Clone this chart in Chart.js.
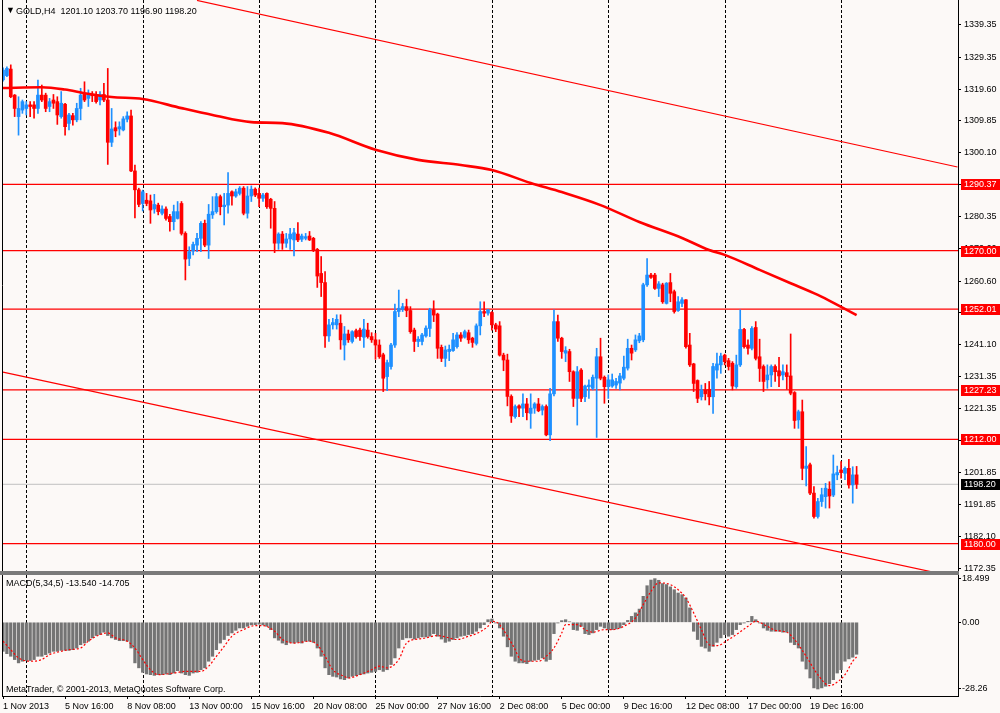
<!DOCTYPE html>
<html><head><meta charset="utf-8"><title>GOLD,H4</title>
<script src="https://cdn.jsdelivr.net/npm/chart.js@4.4.1/dist/chart.umd.min.js"></script>
<style>
html,body{margin:0;padding:0;background:#FCF9F7;overflow:hidden;}
#wrap{position:relative;width:1000px;height:713px;background:#FCF9F7;}
canvas{position:absolute;left:0;}
#c1{top:0;}
#c2{top:575px;}
#sep{position:absolute;left:0;top:571px;width:959px;height:4px;background:#7A7A7A;}
</style></head><body>
<div id="wrap">
<canvas id="c1" width="1000" height="571"></canvas>
<div id="sep"></div>
<canvas id="c2" width="1000" height="138"></canvas>
</div>
<script>
// ---------- DATA ----------
const symbol = 'GOLD,H4';
const open = [
1322.5,1323.8,1325.8,1317.8,1311.2,1313.2,1313.7,1314.8,1314.8,1313.7,
1317.8,1317.8,1314.3,1316.3,1315.8,1311.2,1315.0,1309.1,1311.5,1310.2,
1313.7,1318.3,1316.8,1318.0,1318.0,1316.3,1318.0,1316.3,1303.3,1307.8,
1307.4,1307.1,1310.4,1311.4,1294.5,1288.7,1284.5,1285.5,1285.3,1282.8,
1284.0,1281.5,1282.8,1280.5,1278.9,1279.9,1284.5,1275.3,1267.6,1269.9,
1271.7,1273.8,1278.4,1271.7,1281.0,1282.0,1286.6,1283.5,1284.0,1288.1,
1286.8,1287.6,1289.2,1281.5,1286.8,1288.9,1287.6,1286.1,1287.6,1285.8,
1283.0,1272.3,1275.1,1272.3,1273.6,1273.3,1275.1,1273.5,1273.8,1274.5,
1273.8,1270.4,1263.0,1260.2,1243.8,1247.2,1247.2,1247.7,1241.0,1244.4,
1242.1,1245.4,1245.6,1243.4,1245.6,1243.6,1242.6,1241.0,1238.0,1231.3,
1234.4,1241.0,1251.3,1252.0,1252.8,1251.6,1245.6,1242.1,1242.1,1243.8,
1246.1,1251.8,1250.5,1240.3,1236.9,1239.0,1239.3,1240.5,1244.1,1243.4,
1244.8,1243.1,1241.5,1246.9,1251.3,1250.8,1251.0,1247.2,1246.9,1237.9,
1236.4,1225.2,1219.0,1222.3,1221.6,1222.9,1220.0,1221.6,1222.9,1221.0,
1222.1,1213.4,1226.0,1248.2,1243.1,1238.5,1239.0,1232.8,1224.6,1233.3,
1225.1,1228.2,1227.7,1230.8,1237.4,1231.1,1228.2,1228.4,1228.7,1229.3,
1230.8,1233.9,1240.0,1239.5,1242.3,1242.6,1259.5,1262.5,1262.5,1258.4,
1259.5,1253.8,1260.2,1257.4,1251.6,1253.8,1254.9,1241.0,1235.2,1230.1,
1225.1,1227.2,1227.4,1225.1,1233.3,1234.9,1237.9,1236.2,1235.4,1228.2,
1234.9,1245.8,1241.0,1240.0,1246.4,1237.4,1234.4,1230.3,1231.8,1234.4,
1233.1,1231.8,1232.5,1231.5,1226.4,1218.0,1220.5,1203.1,1204.2,1195.5,
1188.3,1192.9,1194.4,1196.7,1194.9,1201.1,1202.6,1201.6,1203.1,1198.0,1201.1];
const high = [
1326.2,1326.5,1327.1,1318.0,1317.3,1316.3,1315.8,1315.8,1315.8,1322.4,
1320.9,1318.4,1316.8,1318.0,1317.3,1318.9,1315.3,1312.2,1312.2,1315.3,
1319.9,1321.9,1319.4,1318.9,1318.9,1318.9,1321.4,1326.0,1313.7,1309.6,
1309.6,1311.2,1312.7,1313.2,1296.3,1289.2,1288.6,1287.6,1287.1,1287.3,
1284.6,1283.8,1283.5,1281.2,1284.0,1285.1,1285.1,1275.8,1271.2,1272.6,
1275.3,1278.9,1279.4,1284.2,1286.6,1287.6,1287.1,1287.6,1294.0,1288.4,
1288.9,1289.7,1289.7,1289.7,1289.9,1289.3,1289.2,1287.6,1287.8,1286.1,
1285.1,1275.5,1275.9,1275.3,1276.9,1276.9,1278.6,1275.1,1275.3,1275.9,
1274.1,1270.7,1268.2,1263.6,1248.9,1249.2,1250.3,1250.3,1246.7,1245.6,
1245.4,1245.9,1246.2,1248.9,1247.7,1244.8,1244.6,1242.6,1238.5,1236.4,
1241.5,1253.6,1257.9,1253.8,1255.1,1252.8,1246.2,1243.6,1244.6,1246.9,
1252.3,1254.6,1250.8,1241.0,1240.7,1241.0,1244.6,1244.8,1244.8,1245.6,
1245.6,1243.4,1247.5,1254.3,1254.3,1252.0,1251.3,1247.7,1248.2,1238.5,
1238.2,1225.7,1222.6,1222.6,1226.0,1224.6,1226.0,1223.3,1224.6,1222.6,
1222.6,1227.7,1251.8,1250.2,1243.4,1240.5,1239.7,1233.1,1234.4,1233.8,
1228.7,1230.3,1231.8,1240.0,1243.1,1231.5,1231.8,1232.1,1230.8,1232.3,
1237.6,1242.8,1241.0,1244.1,1244.6,1260.0,1267.6,1263.0,1263.0,1260.5,
1260.0,1260.2,1263.0,1257.9,1255.9,1255.6,1255.0,1244.6,1235.4,1230.3,
1228.7,1229.2,1229.8,1235.4,1238.5,1238.5,1238.2,1236.9,1235.9,1237.9,
1251.8,1246.1,1242.6,1246.7,1248.2,1242.8,1234.9,1234.9,1234.9,1234.9,
1237.2,1234.9,1234.9,1244.4,1226.7,1221.0,1224.1,1209.8,1204.7,1197.5,
1193.9,1197.0,1198.5,1199.0,1207.2,1203.8,1205.2,1203.6,1205.9,1203.6,1203.7];
const low = [
1322.1,1323.5,1317.0,1311.2,1305.5,1312.2,1311.7,1311.2,1310.7,1312.2,
1315.8,1312.7,1312.7,1313.7,1308.8,1310.7,1305.5,1307.1,1308.6,1309.6,
1310.2,1315.8,1314.3,1315.8,1315.3,1314.8,1315.8,1296.5,1302.0,1305.0,
1305.5,1306.8,1309.6,1294.3,1280.1,1283.5,1282.2,1283.8,1278.4,1281.5,
1281.0,1281.0,1279.4,1276.0,1276.4,1279.7,1274.8,1261.0,1265.4,1268.7,
1269.7,1269.7,1271.2,1267.6,1279.9,1281.5,1281.0,1277.9,1281.5,1284.0,
1286.4,1287.1,1281.0,1280.0,1285.1,1286.6,1283.5,1285.1,1283.0,1276.9,
1269.4,1270.4,1270.4,1271.0,1270.4,1268.4,1272.8,1272.8,1273.3,1273.1,
1269.7,1258.7,1255.9,1240.3,1242.1,1245.9,1245.9,1239.7,1236.4,1241.8,
1241.6,1243.1,1242.4,1240.3,1243.1,1241.8,1236.6,1236.9,1226.7,1227.0,
1233.6,1240.3,1249.7,1251.3,1249.7,1244.6,1239.0,1240.5,1241.0,1243.4,
1243.6,1248.2,1236.9,1235.9,1234.4,1236.2,1239.0,1240.0,1242.1,1243.1,
1241.5,1240.3,1241.0,1244.1,1249.7,1250.2,1245.6,1245.1,1237.6,1233.1,
1222.3,1217.2,1218.5,1219.0,1219.0,1218.0,1215.4,1220.0,1220.5,1219.5,
1213.1,1211.6,1225.4,1242.1,1236.9,1235.9,1229.8,1222.1,1216.4,1223.6,
1223.6,1224.6,1227.2,1212.6,1230.3,1223.1,1224.6,1228.0,1227.7,1227.2,
1230.3,1233.3,1236.4,1239.0,1241.7,1242.0,1259.0,1261.5,1258.1,1255.9,
1253.8,1253.6,1254.3,1250.8,1251.3,1252.8,1240.0,1234.4,1226.7,1223.3,
1224.1,1224.1,1222.6,1220.0,1230.8,1232.3,1234.9,1233.3,1227.2,1227.7,
1234.4,1240.0,1238.2,1239.5,1236.4,1229.8,1226.7,1227.7,1228.2,1229.8,
1228.2,1230.3,1227.4,1225.7,1215.4,1215.4,1199.6,1197.7,1195.0,1187.8,
1187.8,1191.4,1190.9,1190.9,1194.4,1199.6,1200.1,1199.6,1197.0,1192.4,1196.9];
const close = [
1325.5,1326.0,1317.3,1313.7,1313.7,1315.8,1314.8,1314.3,1313.7,1317.8,
1316.3,1313.7,1315.8,1315.3,1311.7,1315.3,1308.1,1311.7,1310.2,1313.7,
1317.8,1316.3,1317.8,1317.6,1315.8,1318.0,1316.3,1303.3,1307.4,1306.8,
1308.1,1310.5,1311.4,1294.5,1288.7,1284.2,1288.1,1284.5,1282.5,1284.2,
1282.0,1282.8,1279.9,1278.9,1282.0,1282.0,1275.3,1267.4,1269.7,1271.9,
1273.8,1278.4,1271.7,1281.2,1282.0,1286.6,1283.5,1284.0,1287.6,1286.8,
1288.1,1289.2,1281.5,1286.8,1288.9,1287.1,1286.1,1287.1,1283.5,1283.0,
1272.3,1275.1,1272.3,1273.6,1275.1,1275.5,1273.3,1274.5,1274.3,1273.3,
1270.2,1262.2,1260.2,1243.8,1247.2,1247.9,1248.9,1242.6,1244.4,1242.6,
1245.1,1243.6,1243.6,1245.9,1243.6,1242.6,1241.0,1237.4,1230.8,1235.6,
1241.0,1251.3,1252.3,1252.8,1251.6,1245.1,1242.1,1242.8,1244.1,1246.2,
1251.8,1250.2,1240.0,1236.9,1239.5,1239.7,1242.6,1244.1,1243.1,1245.1,
1242.6,1241.8,1246.9,1251.3,1250.8,1251.8,1247.2,1245.9,1237.9,1236.4,
1225.2,1219.2,1222.1,1221.6,1222.9,1220.2,1221.6,1222.9,1220.8,1222.1,
1213.4,1226.0,1248.2,1243.1,1239.0,1239.3,1232.8,1224.6,1232.8,1224.6,
1228.4,1228.7,1231.1,1237.4,1230.8,1228.2,1230.3,1230.3,1229.8,1231.5,
1234.2,1240.0,1238.5,1242.6,1243.8,1259.5,1262.5,1261.8,1258.4,1259.8,
1254.3,1260.0,1256.9,1251.3,1254.3,1254.9,1240.5,1234.9,1229.2,1224.6,
1227.2,1226.0,1225.1,1234.4,1235.2,1237.6,1235.9,1234.4,1228.4,1234.9,
1245.8,1240.5,1240.0,1246.1,1236.9,1233.8,1229.8,1231.8,1234.4,1232.8,
1231.5,1232.8,1231.3,1226.2,1217.8,1220.5,1203.1,1203.8,1195.5,1188.3,
1192.9,1195.0,1197.0,1194.6,1201.4,1201.8,1201.8,1203.1,1198.0,1201.1,1198.2];

// moving average (thick red line), read at bar indexes
const maIdx = [0,10,16,21,28,36,46,54,64,72,84,96,107,118,126,136,144,154,164,175,182,186,195,203,210,216,220];
const maVal = [1320.0,1320.2,1319.5,1318.4,1317.2,1316.6,1313.8,1311.7,1309.5,1309.2,1306.2,1301.0,1297.9,1296.3,1294.8,1290.8,1288.0,1284.0,1278.8,1273.9,1270.2,1268.7,1264.1,1260.0,1256.4,1252.7,1250.2];

// channel trend lines (two anchors each: bar index, price)
const upperIdx = [50, 246];  const upperVal = [1346.9, 1295.7];
const lowerIdx = [0, 246];   const lowerVal = [1232.7, 1169.6];

// horizontal levels
const levels = [1290.37, 1270.00, 1252.01, 1227.23, 1212.00, 1180.00];

// MACD histogram (one per bar) and signal line (read at bar indexes)
const macdHist = [
-12.3,-13.3,-14.4,-15.8,-17.2,-16.5,-16.2,-16.2,-15.8,-14.4,
-14.4,-13.7,-13.0,-12.3,-12.3,-11.9,-11.9,-11.9,-11.6,-10.9,
-9.5,-8.8,-8.0,-6.6,-5.6,-5.2,-4.2,-5.6,-6.6,-7.3,
-7.8,-7.8,-8.0,-10.9,-17.2,-19.3,-21.2,-21.9,-22.2,-22.5,
-22.2,-22.2,-21.9,-22.2,-21.5,-20.5,-21.5,-22.2,-22.5,-21.5,
-21.2,-20.1,-19.3,-16.5,-14.4,-11.6,-8.8,-7.3,-5.6,-4.5,
-3.4,-2.4,-2.4,-1.7,-1.1,-1.0,-0.8,-1.1,-1.7,-3.1,
-6.6,-7.6,-8.8,-9.5,-8.5,-8.8,-8.5,-8.8,-8.0,-8.0,
-8.5,-10.9,-14.4,-19.3,-22.2,-22.9,-23.2,-24.0,-24.3,-23.6,
-22.9,-22.6,-22.2,-21.9,-21.5,-21.2,-20.8,-20.1,-20.8,-20.1,
-17.9,-15.1,-10.9,-7.3,-6.6,-6.6,-7.1,-6.6,-6.2,-6.2,
-5.9,-4.8,-5.9,-7.1,-8.5,-8.0,-7.3,-6.6,-5.9,-5.6,
-5.2,-4.8,-3.8,-2.4,-1.0,1.1,1.4,-0.3,-2.4,-5.9,
-10.4,-14.4,-16.5,-17.2,-17.2,-17.5,-16.5,-16.1,-15.8,-15.1,
-16.5,-15.8,-4.8,-0.3,0.7,1.1,0.2,-3.1,-3.4,-1.7,
-4.8,-5.2,-4.5,-3.1,-1.7,-2.4,-3.1,-3.1,-2.8,-2.4,
-1.0,0.8,2.5,4.0,5.6,11.0,15.5,17.9,18.499,17.8,
16.4,16.0,15.0,13.8,12.4,11.7,10.3,6.1,-3.8,-7.3,
-10.2,-10.9,-12.3,-10.2,-8.5,-6.6,-5.2,-5.9,-5.2,-3.1,
-1.0,-0.3,0.4,2.5,1.1,-0.3,-2.4,-3.4,-3.8,-3.8,
-3.8,-4.2,-4.2,-8.5,-9.5,-10.9,-16.5,-19.8,-23.6,-27.8,
-28.26,-27.8,-27.1,-26.0,-24.3,-21.5,-20.1,-16.5,-15.5,-14.8,-13.54];
const signalIdx = [0,2,4,7,10,12,15,17,20,22,25,27,29,32,34,36,38,40,44,47,51,53,55,57,59,62,65,67,70,72,75,79,81,83,85,88,89,92,95,97,99,102,104,107,109,112,114,117,120,122,125,126,127,128,130,132,133,135,138,140,142,144,145,148,150,152,155,157,160,163,165,167,169,172,174,176,178,180,182,184,187,189,192,194,197,199,202,204,207,210,213,214,217,219,220];
const signalVal = [-8.0,-11.6,-15.1,-16.5,-15.8,-13.7,-12.3,-11.6,-10.9,-8.0,-5.2,-4.5,-6.6,-8.0,-10.9,-15.8,-20.1,-22.2,-21.5,-20.8,-20.8,-18.6,-14.4,-10.2,-5.9,-3.1,-1.4,-1.4,-3.8,-7.3,-8.8,-8.0,-9.5,-14.4,-20.1,-22.9,-23.6,-22.2,-20.1,-18.6,-19.3,-15.8,-8.8,-7.1,-6.6,-5.6,-6.2,-7.3,-5.9,-4.8,-1.7,0.4,0.2,-1.0,-5.9,-11.6,-15.1,-16.5,-16.5,-14.4,-10.9,-4.5,-1.0,-1.0,-3.1,-4.2,-3.1,-3.1,-1.7,1.8,7.5,13.1,16.7,16.0,13.8,10.3,4.0,-3.1,-9.5,-9.9,-7.3,-5.2,-1.7,0.4,-1.7,-3.4,-4.2,-7.3,-14.4,-22.2,-26.8,-26.4,-22.2,-16.5,-14.705];

// axes
const xLabels = ['1 Nov 2013','5 Nov 16:00','8 Nov 08:00','13 Nov 00:00','15 Nov 16:00','20 Nov 08:00','25 Nov 00:00','27 Nov 16:00','2 Dec 08:00','5 Dec 00:00','9 Dec 16:00','12 Dec 08:00','17 Dec 00:00','19 Dec 16:00'];
const labelIdx = [0,16,32,48,64,80,96,112,128,144,160,176,192,208];
const gridIdx = [6,36,66,96,126,156,186,216];
const priceTicks = [1172.35,1182.10,1191.85,1201.85,1211.60,1221.35,1231.35,1241.10,1250.85,1260.60,1270.60,1280.35,1290.35,1300.10,1309.85,1319.60,1329.35,1339.35];
const macdTicks = [-28.26, 0, 18.499];
const macdTickLabels = ['-28.26','0.00','18.499'];

// scale ranges
const XMIN = -0.26, XMAX = 246.13;
const PMIN = 1171.56, PMAX = 1347.03;
const MMIN = -31.23, MMAX = 20.04;

// ---------- STYLE ----------
const FONT = "'Liberation Sans', Arial, sans-serif";
const BLUE = '#1E90FF', RED = '#FF0000';
Chart.defaults.font.family = FONT;
Chart.defaults.font.size = 9;
Chart.defaults.color = '#000';

const N = close.length;
const last = N - 1;
const candleColor = c => (close[c.dataIndex] >= open[c.dataIndex] ? BLUE : RED);
const wickData = close.map((c, i) => ({x: i, y: [low[i], high[i]]}));
const bodyData = close.map((c, i) => ({x: i, y: [Math.min(open[i], c), Math.max(open[i], c)]}));
const maData = maIdx.map((x, k) => ({x, y: maVal[k]}));
const upperData = upperIdx.map((x, k) => ({x, y: upperVal[k]}));
const lowerData = lowerIdx.map((x, k) => ({x, y: lowerVal[k]}));
const histData = macdHist.map((v, i) => ({x: i, y: v}));
const sigData = signalIdx.map((x, k) => ({x, y: signalVal[k]}));

const lineDs = (data, color, width, order, extra) => Object.assign({
  type: 'line', data, borderColor: color, borderWidth: width, pointRadius: 0,
  fill: false, order, tension: 0
}, extra || {});

const levelDs = levels.map(v => lineDs([{x: XMIN, y: v}, {x: XMAX, y: v}], RED, 1.2, 10));
const curDs = lineDs([{x: XMIN, y: close[last]}, {x: XMAX, y: close[last]}], '#C0C0C0', 1, 11);

const vgrid = {
  id: 'vgrid',
  beforeDatasetsDraw(chart) {
    const {ctx, chartArea: a, scales: {x}} = chart;
    ctx.save();
    ctx.strokeStyle = '#000'; ctx.lineWidth = 1; ctx.setLineDash([3, 2]);
    gridIdx.forEach(g => {
      const px = Math.round(x.getPixelForValue(g)) + 0.5;
      ctx.beginPath(); ctx.moveTo(px, a.top); ctx.lineTo(px, a.bottom); ctx.stroke();
    });
    ctx.restore();
  },
  afterDraw(chart) {
    const {ctx, chartArea: a} = chart;
    ctx.save(); ctx.strokeStyle = '#000'; ctx.lineWidth = 1;
    const lx = Math.round(a.left) + 0.5;
    ctx.beginPath(); ctx.moveTo(lx, a.top); ctx.lineTo(lx, a.bottom); ctx.stroke();
    ctx.restore();
  }
};

const overlay1 = {
  id: 'overlay1',
  afterDraw(chart) {
    const {ctx, chartArea: a, scales: {y}} = chart;
    ctx.save();
    ctx.font = '9px ' + FONT; ctx.textAlign = 'left'; ctx.textBaseline = 'middle';
    const box = (v, bg) => {
      const py = Math.round(y.getPixelForValue(v));
      ctx.fillStyle = bg; ctx.fillRect(a.right + 3, py - 5, 41, 11);
      ctx.fillStyle = '#fff'; ctx.fillText(v.toFixed(2), a.right + 6, py + 0.5);
    };
    levels.forEach(v => box(v, RED));
    box(close[last], '#000');
    ctx.fillStyle = '#000'; ctx.textBaseline = 'alphabetic';
    ctx.fillText('\u25BC', 6, 13);
    ctx.fillText(symbol + '  ' + [open[last], high[last], low[last], close[last]].map(v => v.toFixed(2)).join(' '), 16, 14);
    ctx.restore();
  }
};

const overlay2 = {
  id: 'overlay2',
  afterDraw(chart) {
    const {ctx} = chart;
    ctx.save();
    ctx.font = '9px ' + FONT; ctx.fillStyle = '#000'; ctx.textAlign = 'left'; ctx.textBaseline = 'alphabetic';
    ctx.fillText('MACD(5,34,5) ' + macdHist[last].toFixed(3) + ' ' + signalVal[signalVal.length - 1].toFixed(3), 6, 11);
    ctx.fillText('MetaTrader, \u00A9 2001-2013, MetaQuotes Software Corp.', 6, 117);
    ctx.restore();
  }
};

const yAxisCommon = {
  type: 'linear', position: 'right',
  ticks: {autoSkip: false, color: '#000', font: {size: 9, family: FONT}},
  grid: {drawOnChartArea: false, drawTicks: true, tickLength: 3, color: '#000', lineWidth: 1},
  border: {display: true, color: '#000', width: 1}
};

new Chart(document.getElementById('c1'), {
  type: 'bar',
  data: {datasets: [
    ...levelDs, curDs,
    lineDs(upperData, RED, 1.2, 9),
    lineDs(lowerData, RED, 1.2, 9),
    {type: 'bar', data: wickData, barThickness: 1, backgroundColor: candleColor, grouped: false, order: 3},
    {type: 'bar', data: bodyData, barThickness: 3, backgroundColor: candleColor, grouped: false, minBarLength: 1, order: 2},
    lineDs(maData, RED, 2.6, 1, {cubicInterpolationMode: 'monotone'})
  ]},
  options: {
    responsive: false, animation: false, events: [],
    layout: {padding: {left: 2, top: 0, right: 0, bottom: 0}},
    plugins: {legend: {display: false}, tooltip: {enabled: false}},
    scales: {
      x: {type: 'linear', min: XMIN, max: XMAX, display: false, offset: false},
      y: Object.assign({}, yAxisCommon, {
        min: PMIN, max: PMAX,
        afterBuildTicks: s => { s.ticks = priceTicks.map(v => ({value: v})); },
        afterFit: s => { s.width = 42; s.paddingTop = 0; s.paddingBottom = 0; },
        ticks: Object.assign({}, yAxisCommon.ticks, {padding: 3, callback: v => Number(v).toFixed(2)})
      })
    }
  },
  plugins: [vgrid, overlay1]
});

new Chart(document.getElementById('c2'), {
  type: 'bar',
  data: {datasets: [
    {type: 'bar', data: histData, barThickness: 2.6, backgroundColor: '#747474', grouped: false, order: 2},
    lineDs(sigData, RED, 1.2, 1, {borderDash: [2, 2], cubicInterpolationMode: 'monotone'})
  ]},
  options: {
    responsive: false, animation: false, events: [],
    layout: {padding: {left: 2, top: 0, right: 0, bottom: 0}},
    plugins: {legend: {display: false}, tooltip: {enabled: false}},
    scales: {
      x: {
        type: 'linear', min: XMIN, max: XMAX, position: 'bottom', offset: false,
        afterBuildTicks: s => { s.ticks = labelIdx.map(v => ({value: v})); },
        afterFit: s => { s.height = 17; s.paddingLeft = 0; s.paddingRight = 0; },
        ticks: {autoSkip: false, maxRotation: 0, minRotation: 0, align: 'start', padding: 2, color: '#000',
                font: {size: 9, family: FONT}, callback: (v, k) => xLabels[k]},
        grid: {drawOnChartArea: false, drawTicks: true, tickLength: 3, color: '#000', offset: false},
        border: {display: true, color: '#000', width: 1}
      },
      y: Object.assign({}, yAxisCommon, {
        min: MMIN, max: MMAX,
        afterBuildTicks: s => { s.ticks = macdTicks.map(v => ({value: v})); },
        afterFit: s => { s.width = 42; s.paddingTop = 0; s.paddingBottom = 0; },
        ticks: Object.assign({}, yAxisCommon.ticks, {padding: 1, callback: (v, k) => macdTickLabels[k]})
      })
    }
  },
  plugins: [vgrid, overlay2]
});
</script>
</body></html>
